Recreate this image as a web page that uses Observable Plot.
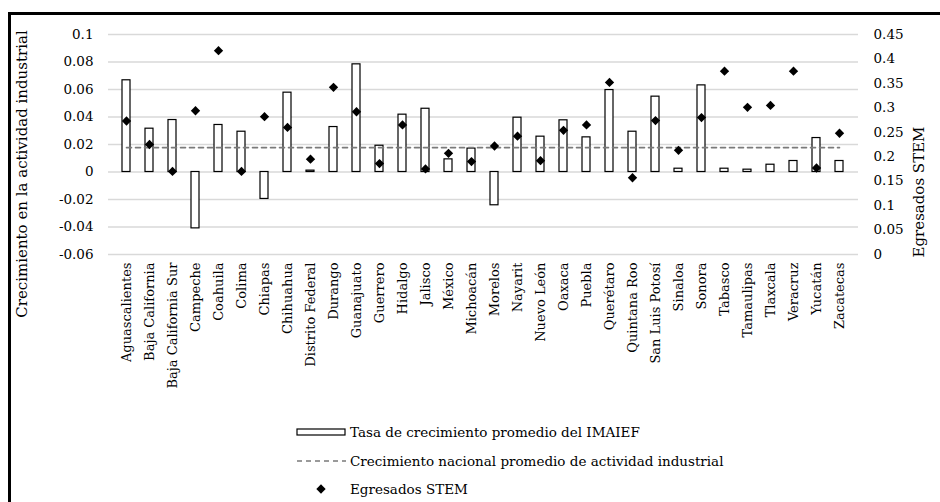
<!DOCTYPE html>
<html>
<head>
<meta charset="utf-8">
<script src="https://cdn.jsdelivr.net/npm/d3@7"></script>
<script src="https://cdn.jsdelivr.net/npm/@observablehq/plot@0.6"></script>
<style>
  html, body { margin: 0; padding: 0; background: #fff; overflow: hidden; }
  #wrap { position: relative; width: 940px; height: 502px; overflow: hidden; font-family: "DejaVu Serif", serif; }
  #frame { position: absolute; left: 8px; top: 12px; width: 1000px; height: 600px; border: 3px solid #000; box-sizing: border-box; }
  #chart { position: absolute; left: 0; top: 0; }
  #chart text { font-family: "DejaVu Serif", serif; }
  .leg { position: absolute; left: 0; top: 0; font-size: 13.5px; color: #000; }
  .legrow { position: absolute; left: 296px; height: 20px; display: flex; align-items: center; white-space: nowrap; }
  .legtxt { position: absolute; left: 54px; white-space: nowrap; }
</style>
</head>
<body>
<div id="wrap">
  <div id="frame"></div>
  <div id="chart"></div>
  <div class="leg" id="legend"></div>
</div>
<script>
const states = ["Aguascalientes","Baja California","Baja California Sur","Campeche","Coahuila","Colima","Chiapas","Chihuahua","Distrito Federal","Durango","Guanajuato","Guerrero","Hidalgo","Jalisco","México","Michoacán","Morelos","Nayarit","Nuevo León","Oaxaca","Puebla","Querétaro","Quintana Roo","San Luis Potosí","Sinaloa","Sonora","Tabasco","Tamaulipas","Tlaxcala","Veracruz","Yucatán","Zacatecas"];
const imaief = [0.0667,0.0315,0.0378,-0.041,0.0342,0.0293,-0.0196,0.0577,0.001,0.0327,0.0783,0.0191,0.0417,0.046,0.0092,0.017,-0.0242,0.0395,0.0257,0.0376,0.0252,0.0596,0.0293,0.0548,0.0024,0.063,0.0024,0.0017,0.0053,0.008,0.0247,0.008];
const stem = [0.273,0.225,0.170,0.294,0.417,0.170,0.282,0.260,0.195,0.342,0.292,0.186,0.265,0.175,0.207,0.190,0.222,0.242,0.192,0.254,0.265,0.352,0.157,0.274,0.213,0.280,0.375,0.301,0.305,0.375,0.177,0.248];
const nationalGrowth = 0.0177;
const leftTicks = [-0.06,-0.04,-0.02,0,0.02,0.04,0.06,0.08,0.1];
const leftLabels = ["-0.06","-0.04","-0.02","0","0.02","0.04","0.06","0.08","0.1"];
const rightTicks = [0,0.05,0.1,0.15,0.2,0.25,0.3,0.35,0.4,0.45];
const rightLabels = ["0","0.05","0.1","0.15","0.2","0.25","0.3","0.35","0.4","0.45"];

const leftDomain = [-0.06, 0.1];
const rightDomain = [0, 0.45];
const toLeft = r => leftDomain[0] + (r - rightDomain[0]) * (leftDomain[1] - leftDomain[0]) / (rightDomain[1] - rightDomain[0]);

const data = states.map((s, i) => ({state: s, g: imaief[i], stem: stem[i], nat: nationalGrowth}));
const rightPos = rightTicks.map(toLeft);
const FONT = "'DejaVu Serif', serif";

const chart = Plot.plot({
  width: 940,
  height: 420,
  marginLeft: 108,
  marginRight: 82,
  marginTop: 34,
  marginBottom: 166,
  style: {fontFamily: FONT, fontSize: "14px", color: "#000", background: "transparent", overflow: "visible"},
  x: {domain: states, paddingInner: 0.645, paddingOuter: 0.3225, label: null},
  y: {domain: leftDomain, label: null},
  marks: [
    Plot.gridY(leftTicks, {stroke: "#d9d9d9", strokeOpacity: 1, strokeWidth: 1.3}),
    Plot.barY(data, {x: "state", y: "g", fill: "white", stroke: "black", strokeWidth: 1.2}),
    Plot.lineY(data, {x: "state", y: "nat", stroke: "#7a7a7a", strokeWidth: 1.6, strokeDasharray: "5,4"}),
    Plot.dot(data, {x: "state", y: d => toLeft(d.stem), symbol: "diamond2", r: 4.2, fill: "black", stroke: "none"}),
    Plot.axisY(leftTicks, {anchor: "left", tickSize: 0, tickPadding: 15, label: null, tickFormat: d => leftLabels[leftTicks.indexOf(d)], fontSize: 13.5}),
    Plot.axisY(rightPos, {anchor: "right", tickSize: 0, tickPadding: 15, label: null, tickFormat: d => rightLabels[rightPos.indexOf(d)], fontSize: 13.5}),
    Plot.axisX({tickRotate: -90, tickSize: 0, tickPadding: 8, label: null, fontSize: 13})
  ]
});

const svg = d3.select(chart);
svg.append("text")
  .attr("transform", "translate(27,174) rotate(-90)")
  .attr("text-anchor", "middle")
  .attr("font-size", 15)
  .attr("fill", "#000")
  .text("Crecimiento en la actividad industrial");
svg.append("text")
  .attr("transform", "translate(924,192) rotate(-90)")
  .attr("text-anchor", "middle")
  .attr("font-size", 15)
  .attr("fill", "#000")
  .text("Egresados STEM");

document.getElementById("chart").appendChild(chart);

const legendItems = [
  {label: "Tasa de crecimiento promedio del IMAIEF", kind: "bar", y: 422},
  {label: "Crecimiento nacional promedio de actividad industrial", kind: "line", y: 451},
  {label: "Egresados STEM", kind: "dot", y: 479}
];
const leg = d3.select("#legend");
legendItems.forEach(it => {
  const row = leg.append("div").attr("class", "legrow").style("top", it.y + "px");
  const sw = row.append("svg").attr("width", 52).attr("height", 20);
  if (it.kind === "bar") {
    sw.append("rect").attr("x", 1).attr("y", 7).attr("width", 48).attr("height", 6).attr("fill", "white").attr("stroke", "black").attr("stroke-width", 1.2);
  } else if (it.kind === "line") {
    sw.append("line").attr("x1", 1).attr("x2", 50).attr("y1", 10).attr("y2", 10).attr("stroke", "#7a7a7a").attr("stroke-width", 1.6).attr("stroke-dasharray", "5,4");
  } else {
    sw.append("path").attr("d", d3.symbol(d3.symbolDiamond2, Math.PI * 4.2 * 4.2)()).attr("transform", "translate(25,10)").attr("fill", "black");
  }
  row.append("span").attr("class", "legtxt").text(it.label);
});
</script>
</body>
</html>
